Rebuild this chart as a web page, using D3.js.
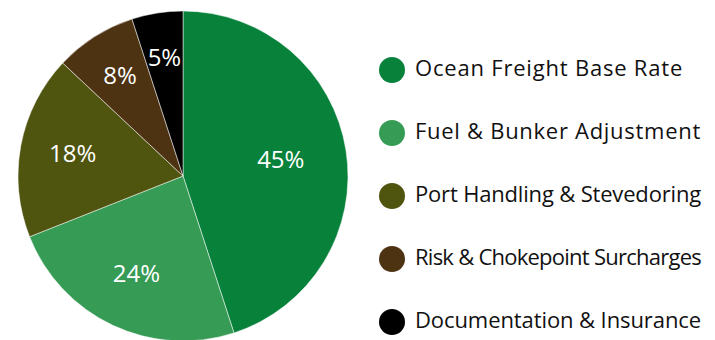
<!DOCTYPE html>
<html>
<head>
<meta charset="utf-8">
<script src="https://cdn.jsdelivr.net/npm/d3@7"></script>
<style>
  html, body { margin: 0; padding: 0; background: #fff; }
  svg { display: block; font-family: "Open Sans", "Noto Sans", sans-serif; }
</style>
</head>
<body>
<div id="chart"></div>
<script>
// chart data
var categories = ['Ocean Freight Base Rate', 'Fuel & Bunker Adjustment', 'Port Handling & Stevedoring', 'Risk & Chokepoint Surcharges', 'Documentation & Insurance'];
var shares = [45, 24, 18, 8, 5];
var colors = ['#08823b', '#369b55', '#4f540f', '#4e3312', '#000000'];

var width = 715, height = 340;
var cx = 183, cy = 176, radius = 165;

var svg = d3.select('#chart').append('svg')
	.attr('width', width)
	.attr('height', height);

var data = categories.map(function(c, i) { return { name: c, value: shares[i], color: colors[i] }; });
var total = d3.sum(shares);

var pie = d3.pie()
	.sort(null)
	.value(function(d) { return d.value; });

var arc = d3.arc().innerRadius(0).outerRadius(radius);

// smaller slices push their label further out
var labelPos = function(d) {
	var frac = d.data.value / total;
	var r = radius * (0.72 - 0.3 * Math.max(0, frac - 0.05));
	return d3.arc().innerRadius(r).outerRadius(r).centroid(d);
};

var g = svg.append('g').attr('transform', 'translate(' + cx + ',' + cy + ')');

var slices = g.selectAll('g.slice').data(pie(data)).enter().append('g').attr('class', 'slice');

slices.append('path')
	.attr('d', arc)
	.attr('fill', function(d) { return d.data.color; })
	.attr('stroke', '#fff')
	.attr('stroke-width', 0.5);

slices.append('text')
	.attr('transform', function(d) { return 'translate(' + labelPos(d) + ')'; })
	.attr('text-anchor', 'middle')
	.attr('dy', '0.3em')
	.attr('fill', '#fff')
	.style('font-size', '24px')
	.text(function(d) { return d.data.value + '%'; });

// legend
var legendY = d3.scalePoint().domain(categories).range([70, 322]);
var textX = 415, maxW = 286;

var legend = svg.selectAll('g.legend').data(data).enter().append('g')
	.attr('class', 'legend')
	.attr('transform', function(d) { return 'translate(0,' + legendY(d.name) + ')'; });

legend.append('circle')
	.attr('cx', 392)
	.attr('r', 13)
	.attr('fill', function(d) { return d.color; });

legend.append('text')
	.attr('x', textX)
	.attr('dy', '0.27em')
	.attr('fill', '#111')
	.style('font-size', '22px')
	.style('letter-spacing', '0.8px')
	.text(function(d) { return d.name; })
	.each(function(d) {
		var w = this.getComputedTextLength();
		if (w > maxW) {
			// tighten the spacing so long names still fit
			var sel = d3.select(this).style('letter-spacing', '0px');
			var w0 = this.getComputedTextLength();
			var ls = (maxW - w0) / d.name.length;
			sel.style('letter-spacing', ls + 'px');
			if (this.getComputedTextLength() > maxW) {
				sel.style('font-size', (22 * maxW / this.getComputedTextLength()) + 'px');
			}
		}
	});
</script>
</body>
</html>
